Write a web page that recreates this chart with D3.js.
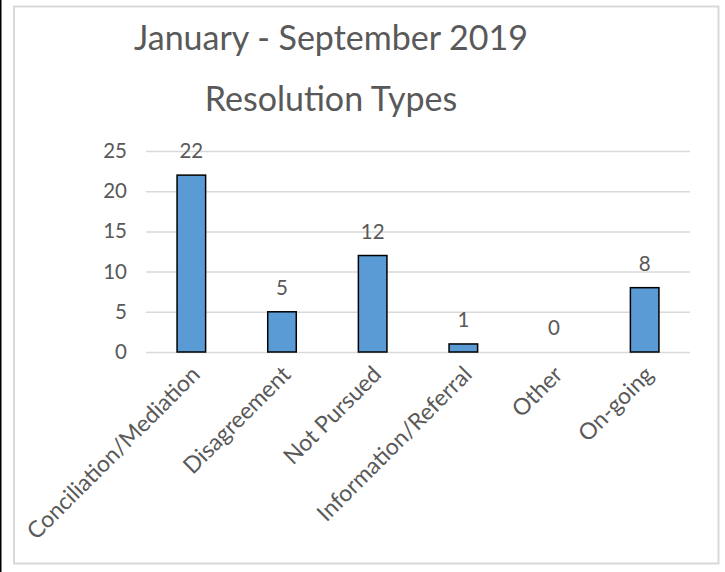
<!DOCTYPE html>
<html>
<head>
<meta charset="utf-8">
<script src="https://cdn.jsdelivr.net/npm/d3@7"></script>
<style>
html,body{margin:0;padding:0;background:#fff;}
svg{display:block;}
</style>
</head>
<body>
<svg id="chart" width="725" height="572"></svg>
<script>
const categories = ["Conciliation/Mediation","Disagreement","Not Pursued","Information/Referral","Other","On-going"];
const values = [22,5,12,1,0,8];
const yTicks = [0,5,10,15,20,25];
const titleLines = ["January - September 2019","Resolution Types"];

const svg = d3.select("#chart");
const FONT = "Lato, 'Open Sans', sans-serif";
const TXT = "#595959";

// outer black edge on left
svg.append("rect").attr("x",0).attr("y",0).attr("width",1.5).attr("height",572).attr("fill","#000");
// chart area border
svg.append("rect").attr("x",14).attr("y",6.5).attr("width",704.5).attr("height",557)
  .attr("fill","#fff").attr("stroke","#d9d9d9").attr("stroke-width",2);

const plot = {left:146, right:690, top:151, bottom:352};
const x = d3.scaleBand().domain(categories).range([plot.left, plot.right]).paddingInner(0.685).paddingOuter(0.3425);
const y = d3.scaleLinear().domain([0,25]).range([plot.bottom, plot.top]);

// gridlines
const grid = d3.axisLeft(y).tickValues(yTicks).tickSize(-(plot.right-plot.left)).tickFormat("");
const gg = svg.append("g").attr("transform",`translate(${plot.left},0)`).call(grid);
gg.select(".domain").remove();
gg.selectAll("line").attr("stroke","#d9d9d9").attr("stroke-width",1.5);

// y tick labels
const ya = d3.axisLeft(y).tickValues(yTicks).tickSize(0).tickPadding(19);
const yg = svg.append("g").attr("transform",`translate(${plot.left},0)`).call(ya);
yg.select(".domain").remove();
yg.selectAll("text").attr("font-family",FONT).attr("font-size",20.5).attr("fill",TXT);

// bars
svg.append("g").selectAll("rect").data(values).join("rect")
  .attr("x",(d,i)=>x(categories[i]))
  .attr("y",d=>y(d))
  .attr("width",x.bandwidth())
  .attr("height",d=>y(0)-y(d))
  .attr("fill","#5b9bd5")
  .attr("stroke","#000").attr("stroke-width",1.5);

// data labels
svg.append("g").selectAll("text").data(values).join("text")
  .attr("x",(d,i)=>x(categories[i])+x.bandwidth()/2)
  .attr("y",d=>y(d)-17)
  .attr("text-anchor","middle")
  .attr("font-family",FONT).attr("font-size",20.5).attr("fill",TXT)
  .text(d=>d);

// x axis labels (rotated)
const xa = d3.axisBottom(x).tickSize(0).tickPadding(0);
const xg = svg.append("g").attr("transform",`translate(0,${plot.bottom})`).call(xa);
xg.select(".domain").remove();
xg.selectAll("text")
  .attr("font-family",FONT).attr("font-size",23).attr("fill",TXT)
  .attr("text-anchor","end")
  .attr("dy",null).attr("y",null)
  .attr("transform","translate(10,24) rotate(-45)");

// title
const tg = svg.append("g");
titleLines.forEach((t,i)=>{
  tg.append("text").attr("x",331).attr("y",[50,111][i])
    .attr("text-anchor","middle")
    .attr("font-family",FONT).attr("font-size",34).attr("fill",TXT)
    .text(t);
});
</script>
</body>
</html>
